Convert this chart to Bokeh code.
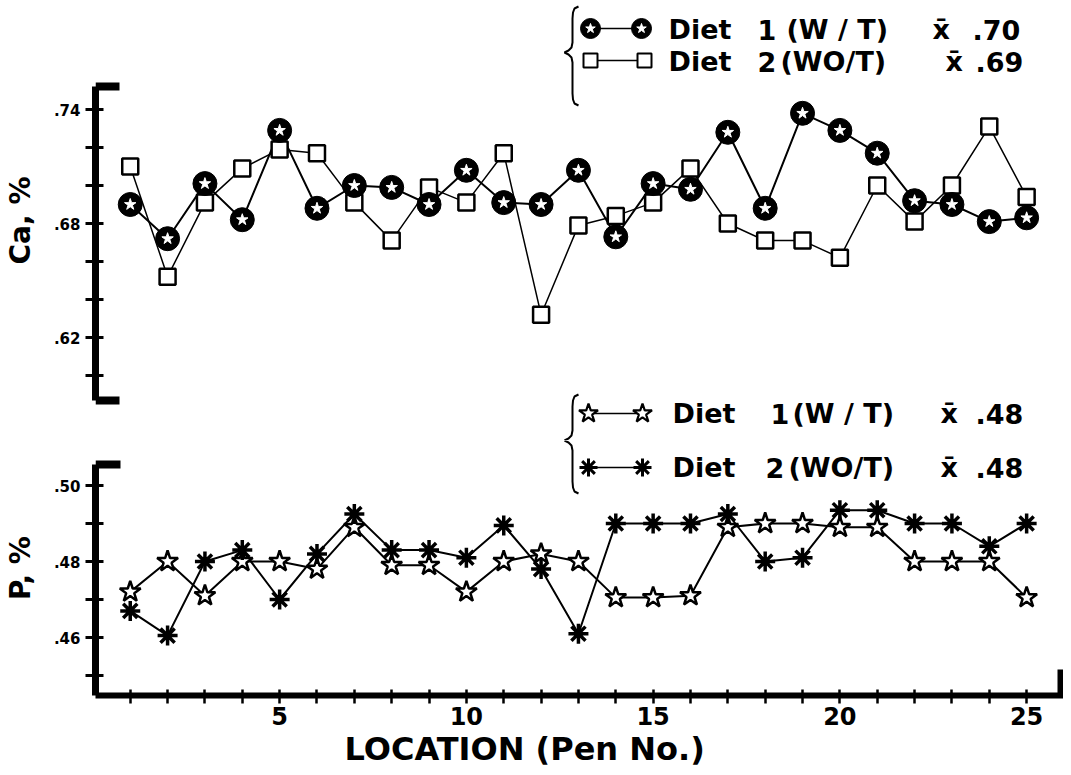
from bokeh.plotting import figure
from bokeh.layouts import column
from bokeh.models import Range1d, FixedTicker, Title, ColumnDataSource
from bokeh.embed import file_html
from bokeh.resources import INLINE
from bokeh.core.properties import value

# ---------------- data ----------------
pen = list(range(1, 26))
ca_diet1 = [0.690, 0.672, 0.701, 0.682, 0.729, 0.688, 0.700, 0.699, 0.690, 0.708,
            0.691, 0.690, 0.708, 0.673, 0.701, 0.698, 0.728, 0.688, 0.738, 0.729,
            0.717, 0.692, 0.690, 0.681, 0.683]
ca_diet2 = [0.710, 0.652, 0.691, 0.709, 0.719, 0.717, 0.691, 0.671, 0.699, 0.691,
            0.717, 0.632, 0.679, 0.684, 0.691, 0.709, 0.680, 0.671, 0.671, 0.662,
            0.700, 0.681, 0.700, 0.731, 0.694]
p_diet1 = [0.472, 0.480, 0.471, 0.480, 0.480, 0.478, 0.489, 0.479, 0.479, 0.472,
           0.480, 0.482, 0.480, 0.4705, 0.4705, 0.471, 0.489, 0.490, 0.490, 0.489,
           0.489, 0.480, 0.480, 0.480, 0.4705]
p_diet2 = [0.467, 0.4605, 0.480, 0.483, 0.470, 0.482, 0.4925, 0.483, 0.483, 0.481,
           0.4895, 0.478, 0.461, 0.490, 0.490, 0.490, 0.4925, 0.480, 0.481, 0.4935,
           0.4935, 0.490, 0.490, 0.484, 0.490]

ca_ticks = [0.60, 0.62, 0.64, 0.66, 0.68, 0.70, 0.72, 0.74]
ca_tick_text = {0.74: ".74", 0.68: ".68", 0.62: ".62"}
p_ticks = [0.45, 0.46, 0.47, 0.48, 0.49, 0.50]
p_tick_text = {0.50: ".50", 0.48: ".48", 0.46: ".46"}
x_tick_text = {5: "5", 10: "10", 15: "15", 20: "20", 25: "25"}

ca_legend = [["Diet", "1", "(W / T)", "x\u0304", ".70"],
             ["Diet", "2", "(WO/T)", "x\u0304", ".69"]]
p_legend = [["Diet", "1", "(W / T)", "x\u0304", ".48"],
            ["Diet", "2", "(WO/T)", "x\u0304", ".48"]]

ca_axis_title = "Ca, %"
p_axis_title = "P, %"
x_axis_title = "LOCATION (Pen No.)"

# ---------------- layout helpers ----------------
FONT = "DejaVu Sans"
W = 1063
LEFT = 95
H1 = 440
H2 = 335
FRAME_W = W - LEFT
X_START = 0.07
X_END = X_START + FRAME_W / 37.35


def xd(px):
    return X_START + (px - LEFT) * (X_END - X_START) / FRAME_W


def cad(py):
    return 0.74 - (py - 109) * 0.12 / 228


def pd(py):
    return 0.50 - (py - 485) * 0.04 / 152


xr = Range1d(X_START, X_END)


def style_common(p):
    p.grid.visible = False
    p.outline_line_color = None
    p.background_fill_color = "white"
    p.border_fill_color = "white"


def style_yaxis(ax, ticks, labels, bounds, title):
    ax.ticker = FixedTicker(ticks=ticks, minor_ticks=[])
    ax.major_label_overrides = {t: labels.get(t, "") for t in ticks}
    ax.bounds = bounds
    ax.axis_line_width = 7
    ax.axis_line_color = "black"
    ax.major_tick_line_width = 3
    ax.major_tick_line_color = "black"
    ax.major_tick_in = 8
    ax.major_tick_out = 10
    ax.minor_tick_line_color = None
    ax.major_label_text_font = FONT
    ax.major_label_text_font_style = "bold"
    ax.major_label_text_font_size = "15px"
    ax.major_label_text_color = "black"
    ax.major_label_standoff = 5
    ax.axis_label = title
    ax.axis_label_text_font = FONT
    ax.axis_label_text_font_style = "bold"
    ax.axis_label_text_font_size = "28px"
    ax.axis_label_text_color = "black"
    ax.axis_label_standoff = 14


def brace_top(x, y0, ytip):
    return [(x + 6, y0), (x + 2, y0 + 2), (x + 0.5, y0 + 6), (x, y0 + 12),
            (x, ytip - 10), (x - 1, ytip - 5), (x - 4, ytip - 2), (x - 8, ytip)]


def brace_bot(x, ytip, y1):
    return [(x - 8, ytip), (x - 4, ytip + 2), (x - 1, ytip + 5), (x, ytip + 10),
            (x, y1 - 12), (x + 0.5, y1 - 6), (x + 2, y1 - 2), (x + 6, y1)]


def draw_line_px(p, pts, ymap, width=2):
    p.line([xd(a) for a, b in pts], [ymap(b) for a, b in pts],
           line_color="black", line_width=width)


def draw_texts(p, row, lefts, py, ymap):
    p.text(x=[xd(v) for v in lefts], y=[ymap(py)] * len(row), text=row,
           text_font=value(FONT), text_font_style="bold", text_font_size="27px",
           text_baseline="middle", text_align="left", text_color="black")


# ---------------- upper panel (Ca) ----------------
p1 = figure(width=W, height=H1, x_range=xr, y_range=Range1d(cad(H1), cad(0)),
            x_axis_location=None, title=None, toolbar_location=None,
            output_backend="svg", min_border_left=LEFT, min_border_right=0,
            min_border_top=0, min_border_bottom=0)
style_common(p1)
ca_top, ca_bot = cad(86), cad(400)
style_yaxis(p1.yaxis[0], ca_ticks, ca_tick_text, (ca_bot, ca_top), ca_axis_title)

p1.segment(x0=[X_START, X_START], y0=[ca_top, ca_bot], x1=[xd(119), xd(119)],
           y1=[ca_top, ca_bot], line_width=8, line_color="black")

src_ca = ColumnDataSource(dict(pen=pen, d1=ca_diet1, d2=ca_diet2))
p1.line("pen", "d2", source=src_ca, line_color="black", line_width=1.5)
p1.line("pen", "d1", source=src_ca, line_color="black", line_width=2)
p1.scatter("pen", "d2", source=src_ca, marker="square", size=16,
           fill_color="white", line_color="black", line_width=2.5)
p1.scatter("pen", "d1", source=src_ca, marker="circle", size=24,
           fill_color="black", line_color="black")
p1.scatter("pen", "d1", source=src_ca, marker="star", size=12,
           fill_color="white", line_color="white", line_width=1)

# Ca legend
draw_line_px(p1, brace_top(572, 6, 52) + brace_bot(572, 52, 105)[1:], cad, 2)
draw_line_px(p1, [(590, 28), (641, 28)], cad, 1.5)
p1.scatter([xd(590), xd(641)], [cad(28)] * 2, marker="circle", size=20,
           fill_color="black", line_color="black")
p1.scatter([xd(590), xd(641)], [cad(28)] * 2, marker="star", size=10,
           fill_color="white", line_color="white")
draw_line_px(p1, [(590, 60), (644, 60)], cad, 1.5)
p1.scatter([xd(590), xd(644)], [cad(60)] * 2, marker="square", size=14,
           fill_color="white", line_color="black", line_width=2)
draw_texts(p1, ca_legend[0], [668, 757, 786, 932, 972], 29, cad)
draw_texts(p1, ca_legend[1], [668, 757, 780, 945, 975], 61, cad)

# P legend, upper part (row 1 + top half of brace)
draw_line_px(p1, brace_top(572, 394, 440), cad, 2)
draw_line_px(p1, [(588, 413), (642, 413)], cad, 1.5)
p1.scatter([xd(588), xd(642)], [cad(413)] * 2, marker="star", size=20,
           fill_color="white", line_color="black", line_width=2.2)
draw_texts(p1, p_legend[0], [672, 770, 792, 940, 975], 413, cad)

# ---------------- lower panel (P) ----------------
p2 = figure(width=W, height=H2, x_range=xr, y_range=Range1d(pd(695), pd(H1)),
            title=None, toolbar_location=None, output_backend="svg",
            min_border_left=LEFT, min_border_right=0, min_border_top=0,
            min_border_bottom=H1 + H2 - 695)
style_common(p2)
p_top = pd(464)
style_yaxis(p2.yaxis[0], p_ticks, p_tick_text, (pd(695), p_top), p_axis_title)

xa = p2.xaxis[0]
xa.ticker = FixedTicker(ticks=pen, minor_ticks=[])
xa.major_label_overrides = {t: x_tick_text.get(t, "") for t in pen}
xa.axis_line_width = 6
xa.axis_line_color = "black"
xa.major_tick_line_width = 2.5
xa.major_tick_line_color = "black"
xa.major_tick_in = 6
xa.major_tick_out = 8
xa.minor_tick_line_color = None
xa.major_label_text_font = FONT
xa.major_label_text_font_style = "bold"
xa.major_label_text_font_size = "24px"
xa.major_label_text_color = "black"
xa.major_label_standoff = 3

p2.add_layout(Title(text=x_axis_title, align="left", offset=249,
                    text_font=FONT, text_font_style="bold",
                    text_font_size="32px", text_color="black", standoff=0), "below")

p2.segment(x0=[X_START], y0=[p_top], x1=[xd(120)], y1=[p_top],
           line_width=8, line_color="black")
p2.segment(x0=[xd(1060)], y0=[pd(669)], x1=[xd(1060)], y1=[pd(695)],
           line_width=6, line_color="black")

src_p = ColumnDataSource(dict(pen=pen, d1=p_diet1, d2=p_diet2))
p2.line("pen", "d2", source=src_p, line_color="black", line_width=2)
p2.line("pen", "d1", source=src_p, line_color="black", line_width=2)
p2.scatter("pen", "d1", source=src_p, marker="star", size=22,
           fill_color="white", line_color="black", line_width=2.5)
p2.scatter("pen", "d2", source=src_p, marker="asterisk", size=20,
           line_color="black", line_width=3.5)

# P legend, lower part (row 2 + bottom half of brace)
draw_line_px(p2, brace_bot(572, 440, 493), pd, 2)
draw_line_px(p2, [(588, 467), (642, 467)], pd, 1.5)
p2.scatter([xd(588), xd(642)], [pd(467)] * 2, marker="asterisk", size=18,
           line_color="black", line_width=3)
draw_texts(p2, p_legend[1], [672, 765, 788, 940, 975], 467, pd)

layout = column(p1, p2)
open("out.html", "w").write(file_html(layout, INLINE))
